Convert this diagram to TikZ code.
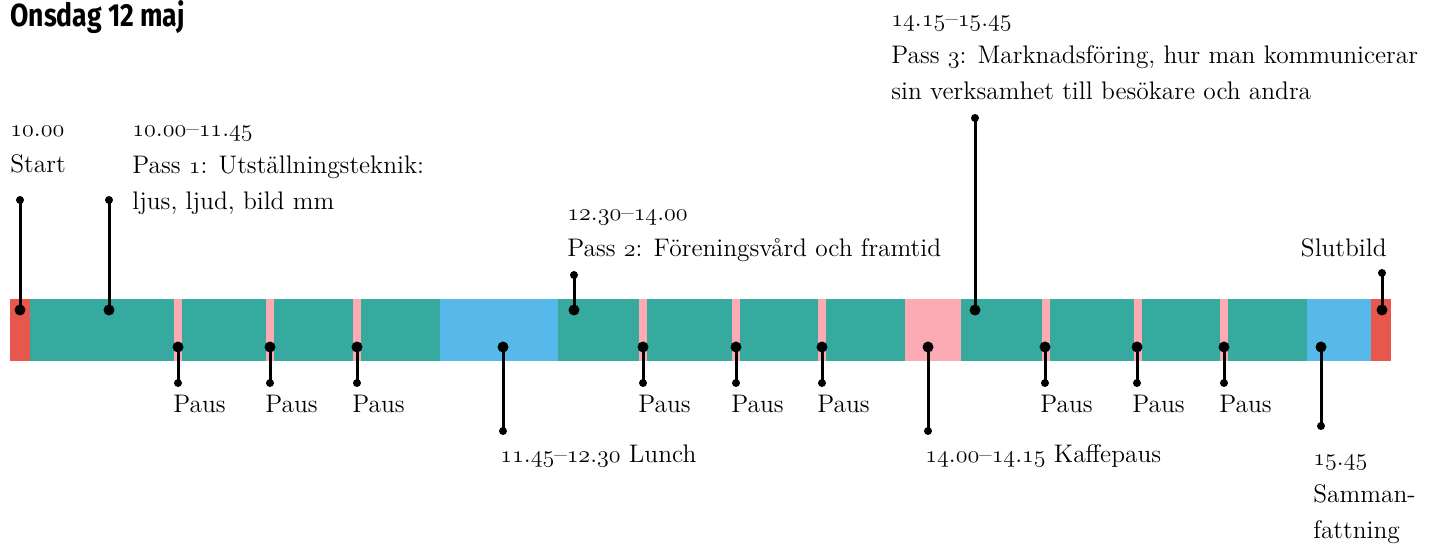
\documentclass[tikz,border=0pt]{standalone}
\usepackage{fontspec}
\usepackage{xcolor}
\usepackage{tikz}
\usetikzlibrary{
  positioning,
  calc
}
\newfontfamily\titlefont[FakeStretch=0.83]{Fira Sans Bold}
\newcommand{\os}[1]{\legacyoldstylenums{#1}}

\definecolor{slotred}{HTML}{E8574E}
\definecolor{slotteal}{HTML}{36AA9E}
\definecolor{slotblue}{HTML}{57B9EA}
\definecolor{slotpink}{HTML}{FCABB4}

\tikzset{
  stem/.style={line width=1.5pt},
  lbl/.style={inner sep=0pt, align=left, font=\fontsize{12.7}{18.25}\selectfont},
}

\begin{document}
\begin{tikzpicture}[x=0.5pt,y=-0.5pt]
  \useasboundingbox (0,0) rectangle (1432,549);

  % the day as coloured slots
  \foreach \a/\b/\c in {10/30/slotred, 30/174/slotteal, 174/182/slotpink,
      182/266/slotteal, 266/274/slotpink, 274/353/slotteal, 353/361/slotpink,
      361/440/slotteal, 440/558/slotblue, 558/639/slotteal, 639/647/slotpink,
      647/732/slotteal, 732/740/slotpink, 740/818/slotteal, 818/826/slotpink,
      826/905/slotteal, 905/961/slotpink, 961/1042/slotteal, 1042/1050/slotpink,
      1050/1134/slotteal, 1134/1142/slotpink, 1142/1220/slotteal,
      1220/1228/slotpink, 1228/1307/slotteal, 1307/1371/slotblue,
      1371/1391/slotred}
    \fill[\c] (\a,299) rectangle (\b,361);

  % pins
  \foreach \n/\x/\ya/\yb in {start/20/310/200, pass1/109/310/200,
      paus1/178/347/383, paus2/270/347/383, paus3/357/347/383,
      lunch/503/347/431, pass2/574/310/275, paus4/643/347/383,
      paus5/736/347/383, paus6/822/347/383, kaffe/928/347/431,
      pass3/975/310/118, paus7/1045/347/383, paus8/1137/347/383,
      paus9/1224/347/383, summ/1321/347/426, slut/1382/310/273} {
    \coordinate (\n-bar) at (\x,\ya);
    \coordinate (\n-end) at (\x,\yb);
    \draw[stem] (\n-bar) -- (\n-end);
    \fill (\n-bar) circle (5.5);
    \fill (\n-end) circle (4);
  }

  \node[anchor=base west, inner sep=0pt, font=\titlefont\fontsize{16}{16}\selectfont]
    (title) at (10,27) {Onsdag 12 maj};

  % labels above (anchored on their last line)
  \node[lbl, anchor=base west] (start-lbl) at (10,173)
    {\os{10}.\os{00}\\Start};
  \node[lbl, anchor=base west] (pass1-lbl) at (132,210)
    {\os{10}.\os{00}--\os{11}.\os{45}\\Pass \os{1}: Utställningsteknik:\\ljus, ljud, bild mm};
  \node[lbl, anchor=base west] (pass2-lbl) at (567,257)
    {\os{12}.\os{30}--\os{14}.\os{00}\\Pass \os{2}: Föreningsvård och framtid};
  \node[lbl, anchor=base west] (pass3-lbl) at (891,100)
    {\os{14}.\os{15}--\os{15}.\os{45}\\Pass \os{3}: Marknadsföring, hur man kommunicerar\\sin verksamhet till besökare och andra};
  \node[lbl, anchor=base east] (slut-lbl) at (1387,257) {Slutbild};

  % labels below
  \foreach \n in {paus1,paus2,paus3,paus4,paus5,paus6,paus7,paus8,paus9}
    \node[lbl, anchor=base west] (\n-lbl) at ($(\n-end)+(-5,30)$) {Paus};
  \node[lbl, anchor=base west] (lunch-lbl) at (500,463)
    {\os{11}.\os{45}--\os{12}.\os{30} Lunch};
  \node[lbl, anchor=base west] (kaffe-lbl) at (925,463)
    {\os{14}.\os{00}--\os{14}.\os{15} Kaffepaus};
  \node[lbl, anchor=base west] (summ-lbl) at (1313,539)
    {\os{15}.\os{45}\\Samman-\\fattning};
\end{tikzpicture}
\end{document}
